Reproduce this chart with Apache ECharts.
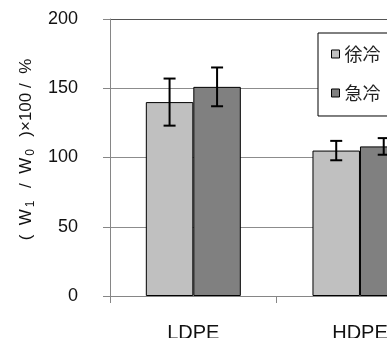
<!DOCTYPE html>
<html>
<head>
<meta charset="utf-8">
<script src="https://cdn.jsdelivr.net/npm/echarts@6/dist/echarts.min.js"></script>
<style>
  html, body { margin: 0; padding: 0; background: #fff; overflow: hidden; }
  #chart { width: 460px; height: 338px; }
</style>
</head>
<body>
<div id="chart"></div>
<script>
// Sample groups and cooling conditions
const categories = ['LDPE', 'HDPE'];
const seriesNames = ['徐冷', '急冷'];
// Mean ratio (W1 / W0) x 100 in %
const slowCooled = [140, 105];
const quenched = [151, 108];
// Error bar half-widths (±)
const slowCooledErr = [17, 7];
const quenchedErr = [14, 6];
// Value axis ticks
const yTicks = [0, 50, 100, 150, 200];

const barWidth = 47.5;
const sansFont = '"Liberation Sans", Arial, sans-serif';
const chart = echarts.init(document.getElementById('chart'), null, { renderer: 'canvas' });

function errorSeries(values, errs, side) {
  return {
    type: 'custom',
    name: 'err' + side,
    z: 10,
    data: values.map((v, i) => [i, v - errs[i], v + errs[i]]),
    renderItem: function (params, api) {
      const lo = api.coord([api.value(0), api.value(1)]);
      const hi = api.coord([api.value(0), api.value(2)]);
      const x = lo[0] + side * barWidth / 2;
      const cap = 6;
      const style = { stroke: '#000', lineWidth: 2 };
      return {
        type: 'group',
        children: [
          { type: 'line', shape: { x1: x, y1: lo[1], x2: x, y2: hi[1] }, style },
          { type: 'line', shape: { x1: x - cap, y1: hi[1], x2: x + cap, y2: hi[1] }, style },
          { type: 'line', shape: { x1: x - cap, y1: lo[1], x2: x + cap, y2: lo[1] }, style }
        ]
      };
    }
  };
}

chart.setOption({
  animation: false,
  backgroundColor: '#fff',
  grid: { left: 110, top: 19, right: 16.7, bottom: 42, containLabel: false, outerBoundsMode: 'none' },
  legend: {
    data: seriesNames,
    orient: 'vertical',
    left: 318,
    top: 33,
    padding: [12, 40, 14, 13],
    itemGap: 21,
    itemWidth: 8,
    itemHeight: 8,
    icon: 'rect',
    backgroundColor: '#fff',
    borderColor: '#000',
    borderWidth: 1,
    borderRadius: 0,
    textStyle: { fontSize: 18, color: '#222', fontFamily: '"Noto Sans CJK JP", sans-serif' },
    itemStyle: { borderColor: '#000', borderWidth: 1 }
  },
  xAxis: {
    type: 'category',
    data: categories,
    axisLine: { lineStyle: { color: '#868686', width: 1 } },
    axisTick: { show: true, length: 7, alignWithLabel: false, lineStyle: { color: '#868686' } },
    axisLabel: { margin: 27, fontSize: 20, color: '#111', fontFamily: sansFont },
    splitLine: { show: false }
  },
  yAxis: {
    type: 'value',
    min: yTicks[0],
    max: yTicks[yTicks.length - 1],
    interval: 50,
    name: '(  W{s|1}  /  W{s|0}  )×100 /  %',
    nameLocation: 'middle',
    nameGap: 73,
    nameTextStyle: {
      fontSize: 17,
      color: '#111',
      fontFamily: sansFont,
      padding: [0, 0, 0, 16],
      rich: {
        s: { fontSize: 12, fontFamily: sansFont, color: '#111', verticalAlign: 'bottom', padding: [9, 3, 0, 2] }
      }
    },
    axisLine: { show: true, lineStyle: { color: '#868686', width: 1 } },
    axisTick: { show: true, length: 7, lineStyle: { color: '#868686' } },
    axisLabel: { margin: 32, fontSize: 18, color: '#111', fontFamily: sansFont },
    splitLine: { show: true, lineStyle: { color: ['#8c8c8c', '#8c8c8c', '#8c8c8c', '#8c8c8c', '#555'], width: 1 } }
  },
  series: [
    {
      name: seriesNames[0],
      type: 'bar',
      data: slowCooled,
      barWidth: barWidth,
      barGap: '0%',
      itemStyle: { color: '#C0C0C0', borderColor: '#000', borderWidth: 1 }
    },
    {
      name: seriesNames[1],
      type: 'bar',
      data: quenched,
      barWidth: barWidth,
      barGap: '0%',
      itemStyle: { color: '#808080', borderColor: '#000', borderWidth: 1 }
    },
    errorSeries(slowCooled, slowCooledErr, -1),
    errorSeries(quenched, quenchedErr, 1)
  ]
});
</script>
</body>
</html>
